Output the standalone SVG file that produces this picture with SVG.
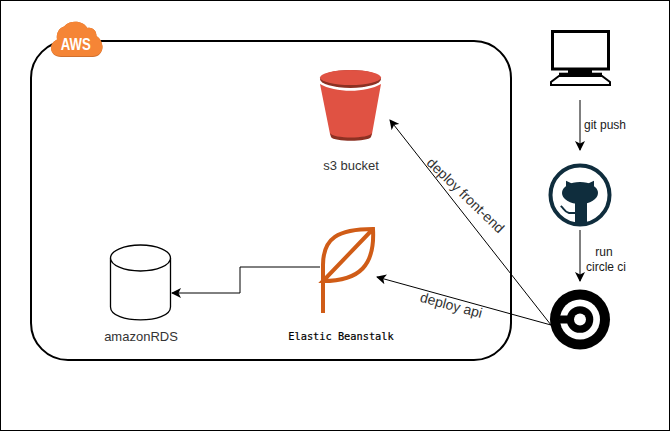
<svg xmlns="http://www.w3.org/2000/svg" width="670" height="431" viewBox="0 0 670 431">
<style>
.t{font-family:"Liberation Sans",Arial,sans-serif;font-size:12px;fill:#1a1a1a;text-anchor:middle}
.big{font-size:13px;fill:#333}
.dep{font-size:14px;fill:#333}
.c{fill:none;stroke:#000;stroke-width:1}
</style>
<defs>
<marker id="a" viewBox="0 0 10 10" refX="9" refY="5" markerWidth="10" markerHeight="10" markerUnits="userSpaceOnUse" orient="auto"><path d="M0 0L10 5L0 10L2.5 5Z" fill="#000"/></marker>
</defs>
<rect x="0" y="0" width="670" height="431" fill="#fff"/>
<rect x="0.5" y="0.5" width="669" height="430" fill="none" stroke="#000"/>
<g id="aws">
<rect x="31" y="41" width="480" height="319" rx="37" fill="none" stroke="#000" stroke-width="2"/>
<path d="M61 57C55 57 51 53 51 48C51 44 54 41 57 39.500C56 33 59 28 64 26.500C67 23 71 21.700 75 21.700C81 21.700 85 24 87.500 28C93 27 96.500 31 96.500 36C100 38 102.500 43 102.500 47C102.500 53 98 57 93 57Z" fill="#d0702f"/>
<path d="M61 56C55 56 51 52.500 51 48C51 44 54 41 57 39.500C56 33 59 28 64 26.500C67 23 71 21.700 75 21.700C81 21.700 85 24 87.500 28C93 27 96.500 31 96.500 36C100 38 102.500 43 102.500 47C102.500 52 98 56 93 56Z" fill="#f58536"/>
<text x="75.700" y="49.500" style="font-family:'Liberation Sans',Arial,sans-serif;font-size:16px;font-weight:bold;fill:#fff;text-anchor:middle" textLength="30" lengthAdjust="spacingAndGlyphs">AWS</text>
</g>
<g id="s3">
<path d="M320 84C335 93 366 93 381 84L372 134C370 142 332 142 330 134Z" fill="#e05243"/>
<path d="M330 133C333 139 369 139 372 133L371 137C368 142 334 142 331 137Z" fill="#8c3123"/>
<ellipse cx="350.500" cy="79" rx="30.500" ry="9" fill="#8c3123"/>
<ellipse cx="350.500" cy="77.500" rx="30.500" ry="7.500" fill="#e05243"/>
<text class="t big" x="351" y="170">s3 bucket</text>
</g>
<g id="beanstalk">
<path d="M323 313V265C323 238 338 229 373 229C375 265 360 281 323 281L373 229" fill="none" stroke="#d05c17" stroke-width="4"/>
<text x="341" y="340" style="font-family:'DejaVu Sans Mono','Liberation Mono',monospace;font-size:10.300px;fill:#000;stroke:#000;stroke-width:.2;text-anchor:middle">Elastic Beanstalk</text>
</g>
<g id="rds">
<path d="M110.500 258V307C110.500 324.300 170.500 324.300 170.500 307V258" fill="#fff" stroke="#000" stroke-width="1.300"/>
<ellipse cx="140.500" cy="258" rx="30" ry="13" fill="#fff" stroke="#000" stroke-width="1.300"/>
<text class="t big" x="141" y="341">amazonRDS</text>
</g>
<g id="computer">
<rect x="552.500" y="31.500" width="56" height="37.500" fill="#fff" stroke="#000" stroke-width="3"/>
<rect x="568" y="70" width="24" height="5" fill="#000"/>
<rect x="559" y="72.700" width="43" height="3.300" fill="#000"/>
<path d="M559 76H602L610 82V85H551V82Z" fill="#fff" stroke="#000" stroke-width="2"/>
</g>
<g id="github">
<circle cx="580" cy="195" r="29.500" fill="#fff" stroke="#0f2d3d" stroke-width="4"/>
<g fill="#0f2d3d">
<ellipse cx="580" cy="193" rx="18" ry="11"/>
<path d="M566 180.700L574 184.500L566 188ZM594 180.700L586 184.500L594 188Z"/>
<rect x="575" y="200" width="12" height="24"/>
</g>
<path d="M560.700 206C564 208 564 212 569 213H575" fill="none" stroke="#0f2d3d" stroke-width="2"/>
</g>
<g id="circleci">
<circle cx="580" cy="319.500" r="30" fill="#000"/>
<circle cx="580" cy="319.500" r="20" fill="#fff"/>
<rect x="560" y="315.500" width="20" height="8" fill="#000"/>
<circle cx="580" cy="319.500" r="13.300" fill="#000"/>
<circle cx="580" cy="319.500" r="6" fill="#fff"/>
</g>
<g id="connectors">
<path class="c" d="M580 100V150" marker-end="url(#a)"/>
<path class="c" d="M580 230V281" marker-end="url(#a)"/>
<path class="c" d="M551 325L390 120" marker-end="url(#a)"/>
<path class="c" d="M551 325L377 277" marker-end="url(#a)"/>
<path class="c" d="M320 267H240V293H172" marker-end="url(#a)"/>
</g>
<g id="labels">
<text class="t" x="605" y="129">git push</text>
<text class="t" x="604" y="256">run</text>
<text class="t" x="606" y="271">circle ci</text>
<text class="t dep" x="465" y="200" transform="rotate(44 465 196)">deploy front-end</text>
<text class="t dep" x="451" y="310" transform="rotate(15 451 306)">deploy api</text>
</g>
</svg>
